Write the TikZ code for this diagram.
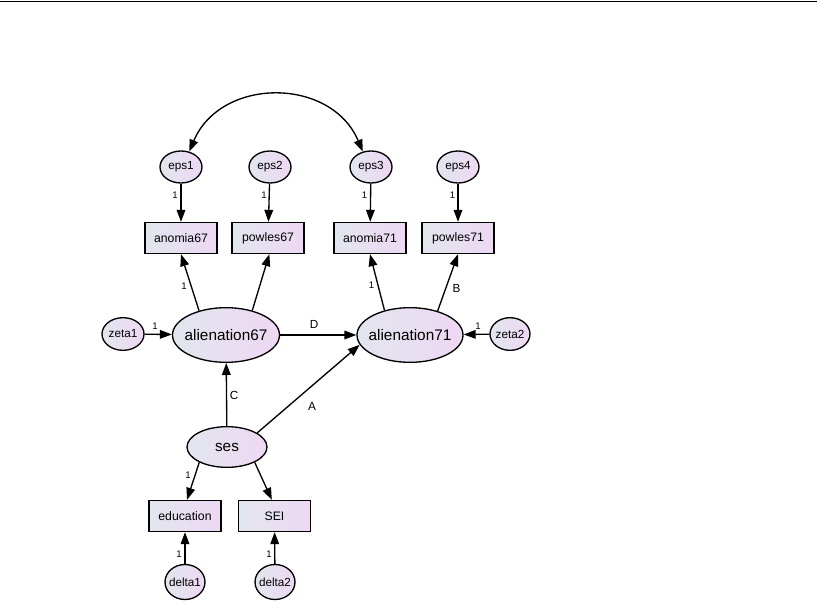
\documentclass[tikz,border=0pt]{standalone}
\usepackage{fontspec}
\setmainfont{Liberation Sans}
\usetikzlibrary{arrows.meta,shapes.geometric}
\definecolor{gradL}{RGB}{226,230,238}
\definecolor{gradR}{RGB}{238,216,243}
\begin{document}
\begin{tikzpicture}[x=0.75pt,y=-0.75pt,
  grad/.style={left color=gradL,right color=gradR},
  obsbox/.style={draw,line width=1pt,grad,rectangle,minimum width=54pt,minimum height=23.25pt,inner sep=0pt,font=\fontsize{9.2}{10}\selectfont},
  errell/.style={draw,line width=1pt,grad,ellipse,minimum width=31.5pt,minimum height=24pt,inner sep=0pt,font=\fontsize{8.8}{10}\selectfont},
  latell/.style={draw,line width=1pt,grad,ellipse,inner sep=0pt,font=\fontsize{11.5}{12}\selectfont},
  arr/.style={line width=1pt,-{Triangle[length=9pt,width=6.5pt]}},
  darr/.style={line width=1pt,{Triangle[length=9pt,width=6.5pt]}-{Triangle[length=9pt,width=6.5pt]}},
  one/.style={inner sep=0pt,font=\fontsize{7.2}{8}\selectfont},
  lett/.style={inner sep=0pt,font=\fontsize{8.8}{10}\selectfont}]
\useasboundingbox (0,0) rectangle (817,606);
\coordinate (tl) at (0,1.5);
\coordinate (tr) at (817,1.5);
\draw[line width=1pt] (tl) -- (tr);

% error terms of indicators
\node[errell] (eps1) at (181,167) {\makebox[0pt]{eps1}};
\node[errell] (eps2) at (270,167) {\makebox[0pt]{eps2}};
\node[errell] (eps3) at (371,167) {\makebox[0pt]{eps3}};
\node[errell] (eps4) at (458,167) {\makebox[0pt]{eps4}};

% indicators
\node[obsbox] (anomia67) at (181,238) {anomia67};
\node[obsbox] (powles67) at (268,238) {powles67};
\node[obsbox] (anomia71) at (370,238) {anomia71};
\node[obsbox] (powles71) at (458,238) {powles71};

% latent variables
\node[latell,minimum width=80.25pt,minimum height=41pt] (alien67) at (226,335) {\makebox[0pt]{alienation67}};
\node[latell,minimum width=79.5pt,minimum height=41pt] (alien71) at (410,335) {\makebox[0pt]{alienation71}};
\node[errell,minimum width=31.5pt,minimum height=24.5pt] (zeta1) at (123,334) {\makebox[0pt]{zeta1}};
\node[errell,minimum width=30pt,minimum height=24.5pt] (zeta2) at (510,334) {\makebox[0pt]{zeta2}};
\node[latell,minimum width=60pt,minimum height=30.5pt] (ses) at (227,447) {\makebox[0pt]{ses}};

% ses indicators
\node[obsbox] (education) at (185,516) {education};
\node[obsbox] (SEI) at (274.5,516) {SEI};
\node[errell,minimum width=30pt,minimum height=26.25pt] (delta1) at (185,582) {\makebox[0pt]{delta1}};
\node[errell,minimum width=30pt,minimum height=26.25pt] (delta2) at (275,582) {\makebox[0pt]{delta2}};

% covariance
\draw[darr] (eps1.62) to[out=67,in=113,looseness=1.2] (eps3.118);

% error -> indicator
\draw[arr] (eps1) -- (anomia67);
\draw[arr] (eps2) -- (powles67);
\draw[arr] (eps3) -- (anomia71);
\draw[arr] (eps4) -- (powles71);

% loadings
\draw[arr] (alien67.138) -- (anomia67.south);
\draw[arr] (alien67.43) -- ([xshift=1pt]powles67.south);
\draw[arr] (alien71.136) -- (anomia71.south);
\draw[arr] (alien71.41) -- (powles71.south);

% structural
\draw[arr] (zeta1) -- (alien67);
\draw[arr] (zeta2) -- (alien71);
\draw[arr] (alien67) -- (alien71);
\draw[arr] (ses) -- (alien67);
\draw[arr] (ses.25) -- (alien71.191);
\draw[arr] (ses.209) -- ([xshift=1.5pt]education.north);
\draw[arr] (ses.331) -- ([xshift=-2pt]SEI.north);
\draw[arr] (delta1) -- (education);
\draw[arr] (delta2) -- (SEI);

% labels
\node[one] (l1) at (175,195) {1};
\node[one] (l2) at (264,195) {1};
\node[one] (l3) at (364.5,195) {1};
\node[one] (l4) at (452.5,195) {1};
\node[one] (l5) at (184,286) {1};
\node[one] (l6) at (371.5,285) {1};
\node[lett] (lB) at (456.5,288) {B};
\node[one] (l7) at (155,326) {1};
\node[one] (l8) at (478,326) {1};
\node[lett] (lD) at (314,324) {D};
\node[lett] (lC) at (234,395) {C};
\node[lett] (lA) at (312,406) {A};
\node[one] (l9) at (188,475) {1};
\node[one] (l10) at (179,554) {1};
\node[one] (l11) at (269,554) {1};
\end{tikzpicture}
\end{document}
